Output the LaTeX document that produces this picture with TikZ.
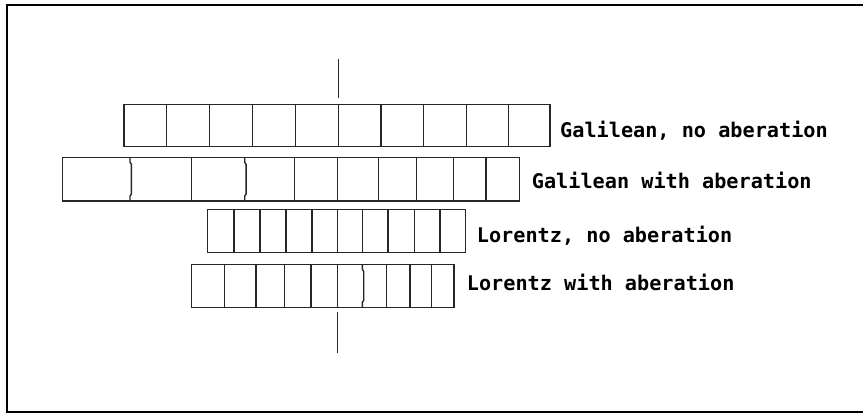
\documentclass[tikz,border=0pt]{standalone}
\usepackage{fontspec}
\newfontfamily\labfont{DejaVu Sans Mono}
\tikzset{
  frame/.style={draw=black,line width=1.6pt},
  cell/.style ={draw=black!85,line width=1.4pt},
  tick/.style ={draw=black!85,line width=1.3pt},
  lab/.style  ={anchor=base west,inner sep=0pt,text=black,
                font=\labfont\bfseries\fontsize{20.2}{24}\selectfont},
}
% divider with a small kink to the right: x, top, bottom
\newcommand{\kink}[3]{\draw[cell] (#1,#2) -- (#1,#2+5) -- (#1+1.4,#2+7) -- (#1+1.4,#3-7) -- (#1,#3-5) -- (#1,#3);}

\begin{document}
\begin{tikzpicture}[x=1pt,y=-1pt]
\useasboundingbox (0,0) rectangle (863,416);
\draw[frame] (866,5) -- (7,5) -- (7,411.7) -- (866,411.7);

% ---------- centre marks ----------
\draw[tick] (338.7,59) -- (338.7,98.3);
\draw[tick] (337.3,311.7) -- (337.3,352.7);

% ---------- Galilean, no aberation ----------
\draw[cell] (124,104.3) rectangle (550,146.7);
\foreach \x in {166.7,209.3,252.7,295.3,338.7,381,423.3,466.7,508.3}
  \draw[cell] (\x,104.3) -- (\x,146.7);
\node[lab] (gno) at (560,137.3) {Galilean, no aberation};

% ---------- Galilean with aberation ----------
\draw[cell] (62.3,157.3) rectangle (519.3,201);
\foreach \x in {191.7,294.3,337.3,378.3,416.7,453.3,486}
  \draw[cell] (\x,157.3) -- (\x,201);
\kink{130}{157.3}{201}
\kink{244.7}{157.3}{201}
\node[lab] (gab) at (531.7,188.3) {Galilean with aberation};

% ---------- Lorentz, no aberation ----------
\draw[cell] (207.7,209.3) rectangle (465.7,252.3);
\foreach \x in {234,260,286,312,337.3,362.7,388,414.3,440}
  \draw[cell] (\x,209.3) -- (\x,252.3);
\node[lab] (lno) at (476.7,242.7) {Lorentz, no aberation};

% ---------- Lorentz with aberation ----------
\draw[cell] (191.7,264.3) rectangle (454,307.3);
\foreach \x in {224.3,256,284.3,311,337.3,386.7,410,431.7}
  \draw[cell] (\x,264.3) -- (\x,307.3);
\kink{362.3}{264.3}{307.3}
\node[lab] (lab) at (466.7,290.7) {Lorentz with aberation};
\end{tikzpicture}
\end{document}
